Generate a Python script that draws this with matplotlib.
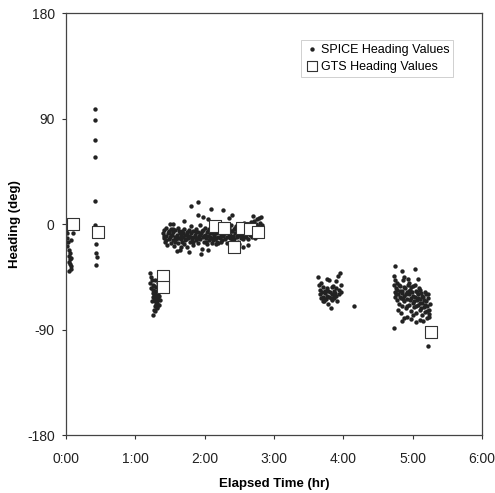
import matplotlib.pyplot as plt
from matplotlib.ticker import FuncFormatter, MultipleLocator

plt.rcParams['font.family'] = ['Liberation Sans', 'DejaVu Sans']
plt.rcParams['axes.unicode_minus'] = False

# SPICE heading values, (elapsed hours, heading deg), grouped by cluster
spice_a = [(0.00, -5), (0.01, -8), (0.02, -12), (0.03, -15), (0.02, -19), (0.05, -22),
           (0.06, -25), (0.04, -27), (0.07, -29), (0.05, -32), (0.06, -34), (0.08, -36),
           (0.07, -38), (0.05, -40), (0.10, -8), (0.08, -14), (0.03, -3), (0.06, -30)]
spice_b = [(0.42, 98), (0.42, 89), (0.42, 72), (0.42, 57), (0.42, 20), (0.42, -1),
           (0.44, -17), (0.44, -25), (0.45, -28), (0.44, -35), (0.43, -5)]
spice_c = [(1.22, -42), (1.23, -45), (1.24, -48), (1.22, -50), (1.25, -52), (1.27, -53),
           (1.23, -55), (1.26, -56), (1.28, -57), (1.30, -58), (1.25, -59), (1.27, -60),
           (1.29, -61), (1.31, -60), (1.33, -59), (1.26, -62), (1.28, -63), (1.30, -63),
           (1.32, -62), (1.34, -61), (1.27, -65), (1.29, -66), (1.31, -65), (1.33, -64),
           (1.35, -57), (1.30, -68), (1.32, -67), (1.28, -70), (1.31, -71), (1.34, -69),
           (1.27, -73), (1.29, -74), (1.32, -72), (1.25, -78), (1.36, -55), (1.33, -50),
           (1.24, -66), (1.35, -65), (1.30, -54), (1.28, -48)]
spice_d = [(1.40, -8), (1.41, -12), (1.42, -5), (1.43, -15), (1.44, -10), (1.45, -3),
           (1.46, -18), (1.47, -8), (1.48, -13), (1.49, -6), (1.50, -11), (1.51, -16),
           (1.52, -4), (1.53, -9), (1.54, -14), (1.55, -7), (1.56, -19), (1.57, -11),
           (1.58, -5), (1.59, -13), (1.60, -9), (1.61, -16), (1.62, -3), (1.63, -12),
           (1.64, -8), (1.65, -22), (1.66, -10), (1.67, -15), (1.68, -6), (1.69, -11),
           (1.70, -17), (1.71, -4), (1.72, -9), (1.73, -13), (1.74, -7), (1.75, -20),
           (1.76, -12), (1.77, -5), (1.78, -10), (1.79, -15), (1.80, -8), (1.81, -2),
           (1.82, -13), (1.83, -18), (1.84, -6), (1.85, -11), (1.86, -9), (1.87, -14),
           (1.88, -4), (1.89, -12), (1.90, -7), (1.91, -16), (1.92, -10), (1.93, -1),
           (1.94, -13), (1.95, -8), (1.96, -21), (1.97, -5), (1.98, -11), (1.99, -15),
           (2.00, -9), (2.01, -3), (2.02, -12), (2.03, -7), (2.04, -17), (2.05, -10),
           (2.06, -4), (2.07, -14), (2.08, -8), (2.09, -12), (2.10, -2), (2.11, -16),
           (2.12, -6), (2.13, -11), (2.14, -9), (2.15, -13), (2.16, -5), (2.17, -8),
           (2.18, -15), (2.19, -3), (2.20, -11), (2.21, -7), (2.22, -12), (2.23, -9),
           (2.24, -4), (2.25, -14), (2.26, -6), (2.27, -10), (2.28, -2), (2.29, -13),
           (2.30, -8), (2.31, -5), (2.32, -11), (2.33, -16), (2.34, -7), (2.35, -3),
           (2.36, -12), (2.37, -9), (2.38, -1), (2.39, -14), (2.40, -6), (2.41, -10),
           (2.42, -4), (2.43, -13), (2.44, -8), (2.45, -2), (2.46, -11), (2.47, -7),
           (2.48, -15), (2.49, -5), (2.50, -9), (2.51, 0), (2.52, -12), (2.53, -6),
           (2.54, -3), (2.55, -10), (2.56, -8), (2.57, 1), (2.58, -5), (2.59, -11),
           (2.60, -2), (2.61, -7), (2.62, -13), (2.63, -4), (2.64, 0), (2.65, -9),
           (2.66, -6), (2.67, 2), (2.68, -11), (2.69, -3), (2.70, -8), (2.71, 3),
           (2.72, -5), (2.73, -12), (2.74, 0), (2.75, -7), (2.76, 4), (2.77, -2),
           (2.78, -9), (2.79, 5), (2.80, 1), (2.81, -4), (2.82, 6), (2.83, -1),
           (1.42, -10), (1.45, -14), (1.48, -7), (1.51, -9), (1.54, -4), (1.57, -15),
           (1.60, -12), (1.63, -6), (1.66, -13), (1.69, -8), (1.72, -14), (1.75, -9),
           (1.78, -6), (1.81, -11), (1.84, -15), (1.87, -7), (1.90, -12), (1.93, -9),
           (1.96, -6), (1.99, -10), (2.02, -15), (2.05, -6), (2.08, -11), (2.11, -8),
           (2.14, -4), (2.17, -12), (2.20, -6), (2.23, -15), (2.26, -9), (2.29, -5),
           (2.32, -7), (2.35, -10), (2.38, -6), (2.41, -13), (2.44, -3), (2.47, -10),
           (2.50, -4), (2.53, -9), (2.56, -13), (2.59, -7), (2.62, -1), (2.65, -5),
           (2.68, -8), (2.71, -2), (2.74, -6), (2.77, -10), (2.80, -5),
           (1.81, 15), (1.91, 19), (1.90, 8), (1.98, 6), (2.09, 13), (2.26, 12),
           (2.40, 8), (2.70, 7), (1.55, 0), (1.50, 0), (1.70, 3), (2.05, 4), (2.35, 5),
           (1.78, -24), (1.95, -26), (2.05, -22), (2.12, -14), (2.16, -17), (2.20, -16),
           (2.55, -20), (2.62, -18), (2.50, -17), (1.66, -20), (1.60, -23)]
spice_e = [(3.64, -45), (3.65, -52), (3.66, -56), (3.67, -60), (3.68, -63), (3.69, -58),
           (3.70, -54), (3.71, -62), (3.72, -66), (3.73, -59), (3.74, -57), (3.75, -64),
           (3.76, -61), (3.77, -55), (3.78, -68), (3.79, -48), (3.80, -62), (3.81, -58),
           (3.82, -72), (3.83, -60), (3.84, -65), (3.85, -53), (3.86, -57), (3.87, -63),
           (3.88, -59), (3.89, -49), (3.90, -61), (3.91, -66), (3.92, -44), (3.93, -56),
           (3.94, -60), (3.95, -42), (3.96, -58), (3.97, -52), (3.70, -66), (3.74, -64),
           (3.78, -57), (3.82, -63), (3.86, -61), (3.90, -55), (3.68, -50), (3.76, -47),
           (3.84, -54), (4.16, -70)]
spice_f = [(4.75, -36), (4.85, -40), (5.03, -38), (4.93, -47), (5.08, -47), (4.73, -44),
           (4.73, -89), (5.22, -104), (4.85, -83), (4.88, -80), (5.10, -82), (5.00, -78),
           (4.73, -52), (4.74, -58), (4.75, -62), (4.76, -55), (4.77, -65), (4.78, -50),
           (4.79, -60), (4.80, -68), (4.81, -57), (4.82, -53), (4.83, -63), (4.84, -70),
           (4.85, -59), (4.86, -48), (4.87, -66), (4.88, -61), (4.89, -55), (4.90, -72),
           (4.91, -58), (4.92, -64), (4.93, -52), (4.94, -69), (4.95, -60), (4.96, -56),
           (4.97, -74), (4.98, -63), (4.99, -58), (5.00, -67), (5.01, -53), (5.02, -71),
           (5.03, -62), (5.04, -57), (5.05, -76), (5.06, -65), (5.07, -60), (5.08, -69),
           (5.09, -55), (5.10, -73), (5.11, -64), (5.12, -59), (5.13, -78), (5.14, -67),
           (5.15, -62), (5.16, -71), (5.17, -58), (5.18, -75), (5.19, -66), (5.20, -80),
           (5.21, -70), (5.22, -63), (5.23, -77), (5.24, -73), (5.25, -68),
           (4.74, -48), (4.76, -60), (4.78, -56), (4.80, -52), (4.82, -62), (4.84, -57),
           (4.86, -64), (4.88, -54), (4.90, -60), (4.92, -70), (4.94, -57), (4.96, -65),
           (4.98, -54), (5.00, -61), (5.02, -66), (5.04, -70), (5.06, -58), (5.08, -63),
           (5.10, -67), (5.12, -72), (5.14, -61), (5.16, -65), (5.18, -69), (5.20, -74),
           (5.22, -60), (5.24, -79), (4.79, -73), (4.83, -76), (4.91, -79), (4.97, -81),
           (5.05, -84), (5.15, -83), (4.87, -45), (4.95, -50), (5.03, -52), (5.11, -56),
           (5.19, -60)]

# GTS heading values
gts_t = [0.10, 0.46, 1.40, 1.40, 2.15, 2.28, 2.42, 2.54, 2.66, 2.77, 5.27]
gts_h = [0, -7, -44, -54, -1.5, -3, -20, -3.5, -4, -7, -92]

spice = spice_a + spice_b + spice_c + spice_d + spice_e + spice_f
spice_t = [p[0] for p in spice]
spice_h = [p[1] for p in spice]

fig = plt.figure(figsize=(4.95, 4.93), dpi=100)
ax = fig.add_axes([0.133, 0.1176, 0.841, 0.856])

ax.scatter(spice_t, spice_h, s=10, color='#222222', linewidths=0,
           label='SPICE Heading Values', zorder=2)
ax.scatter(gts_t, gts_h, s=85, marker='s', facecolor='white', edgecolor='#333333',
           linewidths=0.8, label='GTS Heading Values', zorder=3)

ax.set_xlim(0, 6)
ax.set_ylim(-180, 180)
ax.xaxis.set_major_locator(MultipleLocator(1))
ax.yaxis.set_major_locator(MultipleLocator(90))
ax.xaxis.set_major_formatter(FuncFormatter(lambda v, p: '%d:00' % round(v)))
ax.tick_params(direction='out', length=3, width=0.8, labelsize=10,
               colors='#333333', labelcolor='#222222')
ax.tick_params(axis='x', pad=9)
ax.tick_params(axis='y', pad=5)
for s in ax.spines.values():
    s.set_color('#444444')
    s.set_linewidth(0.9)

ax.set_xlabel('Elapsed Time (hr)', fontsize=9.5, fontweight='bold', labelpad=9)
ax.set_ylabel('Heading (deg)', fontsize=9.5, fontweight='bold', labelpad=4)

leg = ax.legend(loc='upper right', bbox_to_anchor=(0.93, 0.936), fontsize=9,
                frameon=True, fancybox=False, handletextpad=0.1, borderpad=0.3,
                labelspacing=0.4, handlelength=1.2, markerscale=1.0, borderaxespad=0)
leg.get_frame().set_edgecolor('#bbbbbb')
leg.get_frame().set_linewidth(0.6)
leg.legend_handles[1].set_sizes([55])

fig.savefig('out.png', dpi=100)
